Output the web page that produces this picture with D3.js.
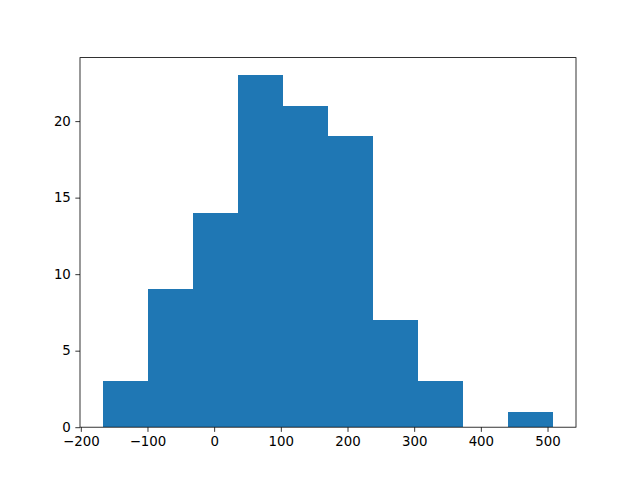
<!DOCTYPE html>
<html>
<head>
<meta charset="utf-8">
<script src="https://cdn.jsdelivr.net/npm/d3@7"></script>
<style>
  body { margin: 0; background: #fff; }
  text { font-family: "DejaVu Sans", sans-serif; }
</style>
</head>
<body>
<div id="chart"></div>
<script>
// histogram bin edges and counts
const binEdges = [-167.4, -99.8, -32.1, 35.5, 103.1, 170.8, 238.4, 306.0, 373.7, 441.3, 508.9];
const counts = [3, 9, 14, 23, 21, 19, 7, 3, 0, 1];
const xTicks = [-200, -100, 0, 100, 200, 300, 400, 500];
const yTicks = [0, 5, 10, 15, 20];

const width = 640, height = 480;
const margin = { left: 80, right: 64, top: 57.6, bottom: 52.8 };

const svg = d3.select('#chart')
  .append('svg')
  .attr('width', width)
  .attr('height', height);

const lo = binEdges[0], hi = binEdges[binEdges.length - 1];
const pad = (hi - lo) * 0.05;
const x = d3.scaleLinear()
  .domain([lo - pad, hi + pad])
  .range([margin.left, width - margin.right]);
const y = d3.scaleLinear()
  .domain([0, d3.max(counts) * 1.05])
  .range([height - margin.bottom, margin.top]);

const bins = counts.map((c, i) => ({ x0: binEdges[i], x1: binEdges[i + 1], n: c }));

svg.append('g')
  .attr('shape-rendering', 'crispEdges')
  .selectAll('rect')
  .data(bins.filter(d => d.n > 0))
  .join('rect')
  .attr('x', d => x(d.x0))
  .attr('width', d => x(d.x1) - x(d.x0))
  .attr('y', d => y(d.n))
  .attr('height', d => y(0) - y(d.n))
  .attr('fill', '#1f77b4');

// axes
const xAxis = svg.append('g')
  .attr('transform', `translate(0,${height - margin.bottom})`)
  .call(d3.axisBottom(x).tickValues(xTicks).tickSize(4.67).tickPadding(4.5)
    .tickFormat(d => d < 0 ? '\u2212' + Math.abs(d) : d));
const yAxis = svg.append('g')
  .attr('transform', `translate(${margin.left},0)`)
  .call(d3.axisLeft(y).tickValues(yTicks).tickSize(4.67).tickPadding(4.5));

[xAxis, yAxis].forEach(g => {
  g.select('.domain').remove();
  g.selectAll('line').attr('stroke', '#000').attr('stroke-width', 0.8);
  g.selectAll('text').attr('fill', '#000').style('font-size', '13.33px');
});

// frame
svg.append('rect')
  .attr('x', margin.left)
  .attr('y', margin.top)
  .attr('width', width - margin.left - margin.right)
  .attr('height', height - margin.top - margin.bottom)
  .attr('fill', 'none')
  .attr('stroke', '#000')
  .attr('stroke-width', 0.8);
</script>
</body>
</html>
